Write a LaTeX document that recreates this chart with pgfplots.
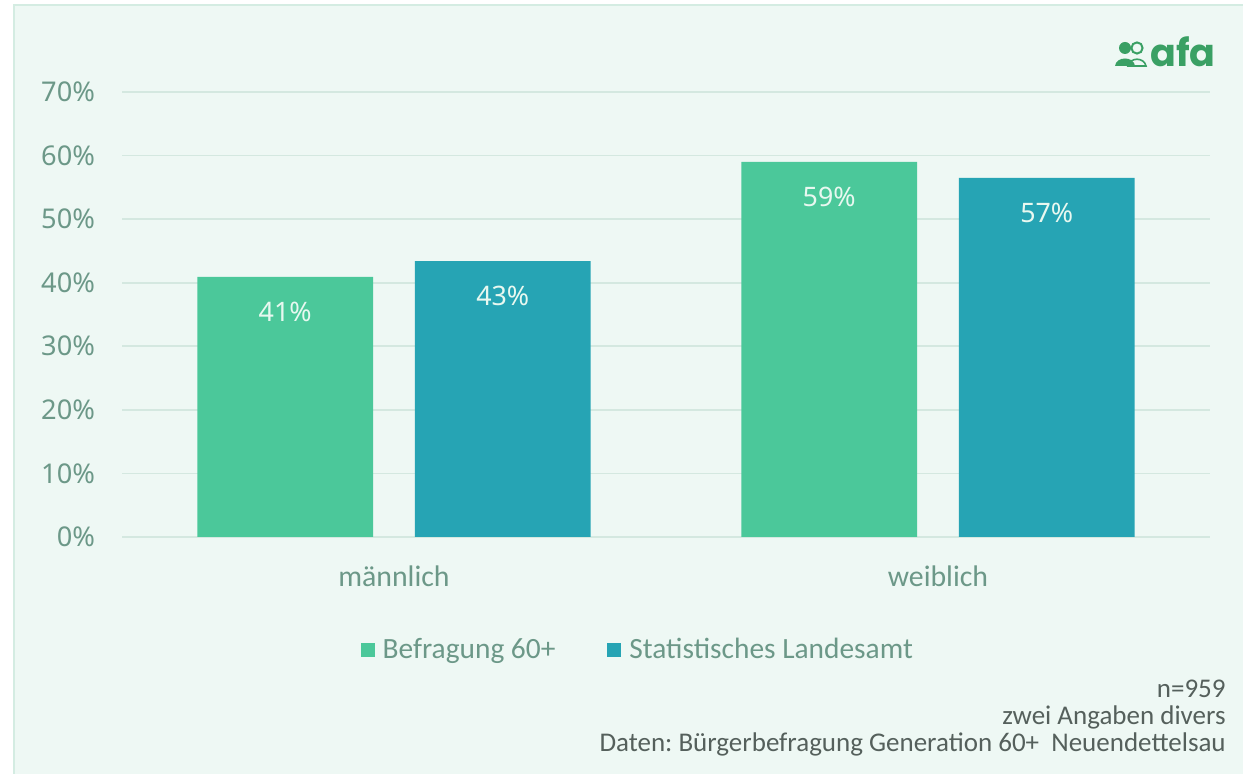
\documentclass[border=0pt]{standalone}
\usepackage{fontspec}
\setmainfont{Carlito}
\newfontfamily\noto{Noto Sans}
\newfontfamily\logofont{Poppins}
\usepackage{pgfplots}
\pgfplotsset{compat=1.18}
\definecolor{bg}{RGB}{238,248,244}
\definecolor{framec}{RGB}{212,236,226}
\definecolor{gridc}{RGB}{212,232,224}
\definecolor{cgreen}{RGB}{75,200,154}
\definecolor{cteal}{RGB}{38,164,180}
\definecolor{txt}{RGB}{108,152,136}
\definecolor{lbl}{RGB}{232,248,240}
\definecolor{foot}{RGB}{85,96,92}
\definecolor{logoc}{RGB}{58,160,100}
\frenchspacing
\begin{document}
\begin{tikzpicture}
\path[use as bounding box] (0pt,0pt) rectangle (621.5pt,387pt);
\fill[white] (0pt,0pt) rectangle (621.5pt,387pt);
\fill[bg] (7pt,0pt) rectangle (621.5pt,384.5pt);
\draw[framec, line width=1pt] (7pt,0pt) -- (7pt,384.5pt) -- (621.5pt,384.5pt);
\begin{axis}[
  at={(61pt,118.5pt)}, anchor=south west, scale only axis,
  width=544pt, height=222.5pt,
  ybar,
  xmin=-0.5, xmax=1.5, ymin=0, ymax=70,
  xtick={0,1}, xticklabels={männlich,weiblich},
  ytick={0,10,...,70},
  yticklabels={0\%,10\%,20\%,30\%,40\%,50\%,60\%,70\%},
  axis line style={draw=none}, major tick length=0pt,
  ymajorgrids, grid style={gridc, line width=0.8pt},
  yticklabel style={font=\noto\fontsize{13.6}{16}\selectfont, text=txt, xshift=-10pt},
  xticklabel style={font=\fontsize{14.9}{18}\selectfont, text=txt, yshift=-11pt},
  bar width=0.323,
  nodes near coords, point meta=explicit symbolic,
  every node near coord/.append style={font=\noto\fontsize{13.4}{16}\selectfont, text=lbl, anchor=center, yshift=-17.5pt},
  legend style={at={(0.475,-0.254)}, anchor=center, draw=none, fill=none,
    legend columns=2, font=\fontsize{14.7}{18}\selectfont, text=txt,
    /tikz/every even column/.append style={column sep=24pt},
    /tikz/every odd column/.append style={column sep=0pt}},
  legend image code/.code={\fill[#1] (0pt,-3.5pt) rectangle (7pt,3.5pt);},
  legend cell align=left,
]
\addplot[bar shift=-0.2, fill=cgreen, draw=none] coordinates {(0,40.9)[41\%] (1,59.0)[59\%]};
\addplot[bar shift=0.2, fill=cteal, draw=none] coordinates {(0,43.4)[43\%] (1,56.5)[57\%]};
\legend{\hspace{2pt}Befragung 60+, \hspace{2pt}Statistisches Landesamt}
\end{axis}
% footnote
\node[anchor=base east, text=foot, font=\fontsize{13.5}{16}\selectfont, inner sep=0pt] at (613pt,38pt) {n=959};
\node[anchor=base east, text=foot, font=\fontsize{13.5}{16}\selectfont, inner sep=0pt] at (613pt,24.5pt) {zwei Angaben divers};
\node[anchor=base east, text=foot, font=\fontsize{13.5}{16}\selectfont, inner sep=0pt] at (613pt,11pt) {Daten: Bürgerbefragung Generation 60+\ \ Neuendettelsau};
% logo
\fill[logoc] (562.5pt,363pt) circle (3pt);
\draw[logoc, line width=1pt] (568.5pt,363pt) circle (2.8pt);
\fill[logoc] (557.5pt,354pt) .. controls (558pt,359pt) and (567pt,359pt) .. (567.5pt,354pt) -- cycle;
\draw[logoc, line width=0.8pt] (564pt,354pt) .. controls (565pt,358.5pt) and (572pt,358.5pt) .. (573pt,354pt) -- cycle;
\node[anchor=base west, text=logoc, font=\logofont\bfseries\fontsize{19}{22}\selectfont, inner sep=0pt] at (575pt,353.5pt) {afa};
\end{tikzpicture}
\end{document}
